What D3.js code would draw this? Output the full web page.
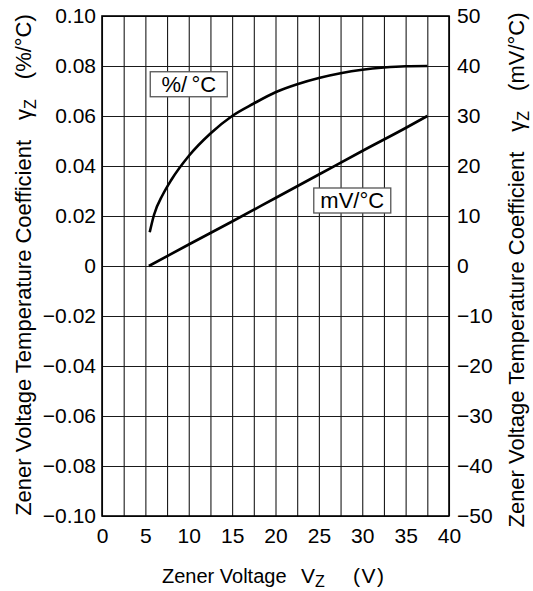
<!DOCTYPE html>
<html>
<head>
<meta charset="utf-8">
<script src="https://cdn.jsdelivr.net/npm/d3@7"></script>
<style>
  body { margin: 0; background: #fff; }
  text { font-family: "Liberation Sans", Arial, sans-serif; fill: #000; }
</style>
</head>
<body>
<svg id="chart"></svg>
<script>
// %/°C curve (left axis)
var pctVoltage = [5.5, 6, 7, 8, 10, 12.5, 15, 17.5, 20, 22.5, 25, 27.5, 30, 32.5, 35, 37.5];
var pctCoeff   = [0.0135, 0.0205, 0.0285, 0.0345, 0.044, 0.053, 0.060, 0.065, 0.0695, 0.0727, 0.0752, 0.0771, 0.0785, 0.0794, 0.0799, 0.080];

// mV/°C line (right axis)
var mvVoltage = [5.4, 10, 15, 20, 25, 30, 35, 37.5];
var mvCoeff   = [0, 4.3, 8.9, 13.6, 18.3, 23.0, 27.6, 30];

// ticks
var xTickLabels = [0, 5, 10, 15, 20, 25, 30, 35, 40];
var xGrid = [0, 2.5, 5, 7.5, 10, 12.5, 15, 17.5, 20, 22.5, 25, 27.5, 30, 32.5, 35, 37.5, 40];
var leftTicks = [-0.10, -0.08, -0.06, -0.04, -0.02, 0, 0.02, 0.04, 0.06, 0.08, 0.10];
var rightTicks = [-50, -40, -30, -20, -10, 0, 10, 20, 30, 40, 50];

var screen = { width: 533, height: 591 };
var margins = { left: 102, top: 16, right: 84, bottom: 75 };
var width = screen.width - margins.left - margins.right;
var height = screen.height - margins.top - margins.bottom;

var svg = d3.select("#chart")
            .attr("width", screen.width)
            .attr("height", screen.height);

var xScale = d3.scaleLinear().domain([0, 40]).range([margins.left, margins.left + width]);
var yLeft = d3.scaleLinear().domain([-0.1, 0.1]).range([margins.top + height, margins.top]);
var yRight = d3.scaleLinear().domain([-50, 50]).range([margins.top + height, margins.top]);

//grid
svg.append("g")
   .attr("transform", "translate(0," + (margins.top + height) + ")")
   .call(d3.axisBottom(xScale).tickValues(xGrid).tickSize(-height).tickFormat(""))
   .call(function(g) { g.select(".domain").remove(); })
   .selectAll("line").attr("stroke", "#1a1a1a").attr("stroke-width", 1.1);

svg.append("g")
   .attr("transform", "translate(" + margins.left + ",0)")
   .call(d3.axisLeft(yLeft).tickValues(leftTicks).tickSize(-width).tickFormat(""))
   .call(function(g) { g.select(".domain").remove(); })
   .selectAll("line").attr("stroke", "#1a1a1a").attr("stroke-width", 1.1);

//frame
svg.append("rect")
   .attr("x", margins.left).attr("y", margins.top)
   .attr("width", width).attr("height", height)
   .attr("fill", "none").attr("stroke", "#000").attr("stroke-width", 1.6);

//tick labels
var fmtLeft = function(d) { return Math.abs(d) < 1e-9 ? "0" : d3.format(".2f")(d); };

var xAxis = svg.append("g")
   .attr("transform", "translate(0," + (margins.top + height) + ")")
   .call(d3.axisBottom(xScale).tickValues(xTickLabels).tickSize(0).tickPadding(12));
var lAxis = svg.append("g")
   .attr("transform", "translate(" + margins.left + ",0)")
   .call(d3.axisLeft(yLeft).tickValues(leftTicks).tickSize(0).tickPadding(6).tickFormat(fmtLeft));
var rAxis = svg.append("g")
   .attr("transform", "translate(" + (margins.left + width) + ",0)")
   .call(d3.axisRight(yRight).tickValues(rightTicks).tickSize(0).tickPadding(8).tickFormat(d3.format("d")));

[xAxis, lAxis, rAxis].forEach(function(g) {
  g.select(".domain").remove();
  g.selectAll("text")
   .style("font-size", "21px")
   .style("font-family", "'Liberation Sans', Arial, sans-serif")
   .attr("fill", "#000");
});

//curves
var pctData = pctVoltage.map(function(v, i) { return [v, pctCoeff[i]]; });
var mvData = mvVoltage.map(function(v, i) { return [v, mvCoeff[i]]; });

svg.append("path")
   .datum(pctData)
   .attr("fill", "none").attr("stroke", "#000").attr("stroke-width", 2.6)
   .attr("d", d3.line()
     .x(function(d) { return xScale(d[0]); })
     .y(function(d) { return yLeft(d[1]); })
     .curve(d3.curveMonotoneX));

svg.append("path")
   .datum(mvData)
   .attr("fill", "none").attr("stroke", "#000").attr("stroke-width", 2.6)
   .attr("d", d3.line()
     .x(function(d) { return xScale(d[0]); })
     .y(function(d) { return yRight(d[1]); })
     .curve(d3.curveMonotoneX));

//curve labels (boxed)
var boxLabel = function(text, cx, cy, w, h) {
  var g = svg.append("g").attr("transform", "translate(" + cx + "," + cy + ")");
  g.append("rect")
   .attr("x", -w / 2).attr("y", -h / 2).attr("width", w).attr("height", h)
   .attr("fill", "#fff").attr("stroke", "#555").attr("stroke-width", 1.3);
  g.append("text")
   .attr("text-anchor", "middle").attr("dy", "0.36em")
   .style("font-size", "22px")
   .text(text);
};
boxLabel("%/\u2009°C", xScale(10.0), yLeft(0.0727), 77, 25);
boxLabel("mV/°C", xScale(28.85), yRight(13.1), 77, 25);

//axis titles
var bottomTitle = svg.append("text")
   .attr("y", 583)
   .style("font-size", "20px");
bottomTitle.append("tspan").attr("x", 162).text("Zener Voltage");
bottomTitle.append("tspan").attr("x", 301).style("font-size", "21px").text("V");
bottomTitle.append("tspan").attr("dy", 4).style("font-size", "16px").text("Z");
bottomTitle.append("tspan").attr("x", 353).attr("dy", -4).style("font-size", "21px")
   .style("letter-spacing", "1.5px").text("(V)");

var sideTitle = function(x, cy, unit) {
  var t = svg.append("text")
     .attr("transform", "translate(" + x + "," + cy + ") rotate(-90)")
     .attr("text-anchor", "middle")
     .style("font-size", "22px");
  t.append("tspan").text("Zener Voltage Temperature Coefficient");
  t.append("tspan").attr("dx", 20).text("γ");
  t.append("tspan").attr("dy", 5).style("font-size", "16px").text("Z");
  t.append("tspan").attr("dx", 20).attr("dy", -5).text(unit);
};
sideTitle(31, 265, "(%/°C)");
sideTitle(524, 270, "(mV/°C)");
</script>
</body>
</html>
